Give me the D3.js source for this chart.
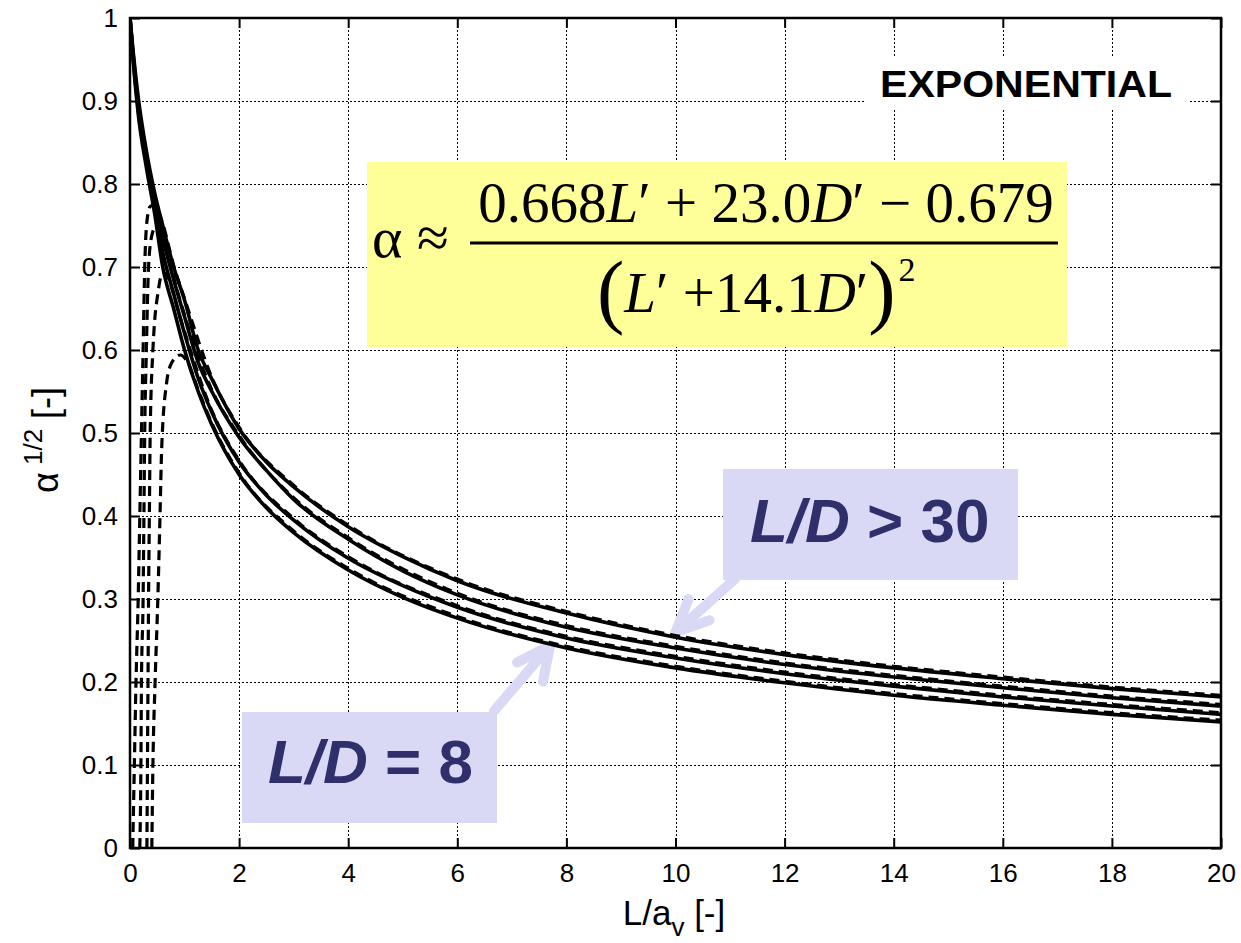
<!DOCTYPE html>
<html>
<head>
<meta charset="utf-8">
<script src="https://cdn.jsdelivr.net/npm/d3@7"></script>
<style>
  body { margin: 0; background: #fff; }
  svg { display: block; }
</style>
</head>
<body>
<div id="chart"></div>
<script>
const width = 1241;
const height = 943;

// axis ticks
const xTicks = [0, 2, 4, 6, 8, 10, 12, 14, 16, 18, 20];
const yTicks = [0, 0.1, 0.2, 0.3, 0.4, 0.5, 0.6, 0.7, 0.8, 0.9, 1];

// solid curves (top = L/D > 30 ... bottom = L/D = 8)
const solidX = [0, 0.05, 0.15, 0.3, 0.45, 0.6, 0.8, 1, 1.25, 1.5, 2, 2.5, 3, 4, 5, 6, 8, 10, 12, 14, 16, 18, 20];
const solid1 = [1, 0.965, 0.905, 0.84, 0.79, 0.75, 0.70, 0.66, 0.60, 0.565, 0.505, 0.465, 0.435, 0.387, 0.351, 0.322, 0.283, 0.254, 0.233, 0.217, 0.204, 0.192, 0.182];
const solid2 = [1, 0.962, 0.898, 0.835, 0.782, 0.735, 0.685, 0.64, 0.585, 0.55, 0.495, 0.455, 0.42, 0.372, 0.334, 0.305, 0.266, 0.241, 0.221, 0.206, 0.193, 0.181, 0.171];
const solid3 = [1, 0.958, 0.89, 0.827, 0.773, 0.718, 0.668, 0.62, 0.566, 0.525, 0.465, 0.425, 0.395, 0.349, 0.316, 0.29, 0.253, 0.229, 0.21, 0.195, 0.182, 0.171, 0.161];
const solid4 = [1, 0.955, 0.885, 0.82, 0.765, 0.70, 0.65, 0.60, 0.55, 0.51, 0.45, 0.41, 0.38, 0.335, 0.302, 0.277, 0.241, 0.217, 0.199, 0.184, 0.172, 0.161, 0.152];

// dashed curves (each with its own x samples)
const dash1X = [0.05, 0.08, 0.11, 0.15, 0.18, 0.21, 0.24, 0.27, 0.31, 0.37, 0.45, 0.6, 0.8, 1, 1.5, 2, 3, 4, 6, 8, 10, 12, 14, 16, 18, 20];
const dash1Y = [0, 0.1, 0.2, 0.3, 0.4, 0.5, 0.6, 0.7, 0.755, 0.773, 0.775, 0.752, 0.702, 0.662, 0.567, 0.507, 0.437, 0.389, 0.324, 0.285, 0.256, 0.235, 0.219, 0.206, 0.194, 0.184];
const dash2X = [0.18, 0.2, 0.21, 0.24, 0.255, 0.27, 0.3, 0.34, 0.4, 0.46, 0.55, 0.7, 0.85, 1, 1.5, 2, 3, 4, 6, 8, 10, 12, 14, 16, 18, 20];
const dash2Y = [0, 0.1, 0.2, 0.3, 0.4, 0.5, 0.6, 0.7, 0.738, 0.747, 0.74, 0.712, 0.675, 0.642, 0.552, 0.497, 0.422, 0.374, 0.307, 0.268, 0.243, 0.223, 0.208, 0.195, 0.183, 0.173];
const dash3X = [0.31, 0.32, 0.33, 0.34, 0.355, 0.37, 0.42, 0.52, 0.6, 0.68, 0.76, 0.9, 1, 1.5, 2, 3, 4, 6, 8, 10, 12, 14, 16, 18, 20];
const dash3Y = [0, 0.1, 0.2, 0.3, 0.4, 0.5, 0.6, 0.672, 0.693, 0.69, 0.676, 0.643, 0.622, 0.527, 0.467, 0.397, 0.351, 0.292, 0.255, 0.231, 0.212, 0.197, 0.184, 0.173, 0.163];
const dash4X = [0.4, 0.42, 0.46, 0.51, 0.55, 0.58, 0.67, 0.76, 0.92, 1.05, 1.25, 1.5, 2, 3, 4, 6, 8, 10, 12, 14, 16, 18, 20];
const dash4Y = [0, 0.1, 0.2, 0.3, 0.4, 0.48, 0.56, 0.584, 0.594, 0.586, 0.552, 0.512, 0.452, 0.382, 0.337, 0.279, 0.243, 0.219, 0.201, 0.186, 0.174, 0.163, 0.154];

const solidSeries = [solid1, solid2, solid3, solid4].map((ys) => solidX.map((x, i) => [x, ys[i]]));
const dashSeries = [
  [dash1X, dash1Y],
  [dash2X, dash2Y],
  [dash3X, dash3Y],
  [dash4X, dash4Y],
].map(([xs, ys]) => xs.map((x, i) => [x, ys[i]]));

const plotLeft = 130, plotRight = 1221, plotTop = 18, plotBottom = 848;

const x = d3.scaleLinear().domain([0, 20]).range([plotLeft, plotRight]);
const y = d3.scaleLinear().domain([0, 1]).range([plotBottom, plotTop]);

const svg = d3
  .select("#chart")
  .append("svg")
  .attr("width", width)
  .attr("height", height)
  .style("font-family", "'Liberation Sans', Arial, sans-serif");

svg.append("defs")
  .append("clipPath")
  .attr("id", "plotclip")
  .append("rect")
  .attr("x", plotLeft)
  .attr("y", plotTop)
  .attr("width", plotRight - plotLeft)
  .attr("height", plotBottom - plotTop);

// dotted grid
const snap = (v) => Math.round(v) + 0.5;
const grid = svg.append("g")
  .attr("stroke", "#000")
  .attr("stroke-width", 1.4)
  .attr("stroke-dasharray", "2,2")
  .attr("shape-rendering", "crispEdges");
grid.selectAll("line.v")
  .data(xTicks.slice(1, -1))
  .join("line")
  .attr("class", "v")
  .attr("x1", (d) => snap(x(d))).attr("x2", (d) => snap(x(d)))
  .attr("y1", plotTop).attr("y2", plotBottom);
grid.selectAll("line.h")
  .data(yTicks.slice(1, -1))
  .join("line")
  .attr("class", "h")
  .attr("x1", plotLeft).attr("x2", plotRight)
  .attr("y1", (d) => snap(y(d))).attr("y2", (d) => snap(y(d)));

// white patch behind the title
svg.append("rect")
  .attr("x", 866).attr("y", 58)
  .attr("width", 324).attr("height", 50)
  .attr("fill", "#fff");
svg.append("text")
  .attr("x", 1026).attr("y", 97)
  .attr("text-anchor", "middle")
  .attr("font-weight", "bold")
  .attr("font-size", 37)
  .attr("textLength", 292)
  .attr("lengthAdjust", "spacingAndGlyphs")
  .text("EXPONENTIAL");

// formula box
const fbox = svg.append("g");
fbox.append("rect")
  .attr("x", 367).attr("y", 162)
  .attr("width", 700).attr("height", 185)
  .attr("fill", "#ffff99");
const serif = "'Liberation Serif', 'Times New Roman', serif";
fbox.append("text")
  .attr("x", 372).attr("y", 257)
  .attr("font-family", serif)
  .attr("font-size", 58)
  .text("α ≈");
const num = fbox.append("text")
  .attr("x", 766).attr("y", 222)
  .attr("text-anchor", "middle")
  .attr("font-family", serif)
  .attr("font-size", 57);
num.append("tspan").text("0.668");
num.append("tspan").attr("font-style", "italic").text("L");
num.append("tspan").text("′ + 23.0");
num.append("tspan").attr("font-style", "italic").text("D");
num.append("tspan").text("′ − 0.679");
fbox.append("line")
  .attr("x1", 470).attr("x2", 1058)
  .attr("y1", 243).attr("y2", 243)
  .attr("stroke", "#000").attr("stroke-width", 3);
// denominator as one text so the parentheses and the square stay with it
const den = fbox.append("text")
  .attr("x", 597).attr("y", 318)
  .attr("font-family", serif)
  .attr("font-size", 57);
den.append("tspan").attr("font-size", 82).attr("font-weight", 300).text("(");
den.append("tspan").attr("dy", -6).attr("font-style", "italic").text("L");
den.append("tspan").text("′ +14.1");
den.append("tspan").attr("font-style", "italic").text("D");
den.append("tspan").text("′");
den.append("tspan").attr("dy", 6).attr("font-size", 82).text(")");
den.append("tspan").attr("dy", -37).attr("dx", 3).attr("font-size", 34).text("2");

// L/D boxes
const navy = "#2f2f6b";
const lilac = "#d9d9f6";
const boxes = [
  { x: 723, y: 469, w: 295, h: 111, tx: 750, ty: 542, rel: " > 30" },
  { x: 242, y: 712, w: 255, h: 111, tx: 268, ty: 783, rel: " = 8" },
];
boxes.forEach((b) => {
  svg.append("rect")
    .attr("x", b.x).attr("y", b.y)
    .attr("width", b.w).attr("height", b.h)
    .attr("fill", lilac);
  const t = svg.append("text")
    .attr("x", b.tx).attr("y", b.ty)
    .attr("font-weight", "bold")
    .attr("font-size", 62)
    .attr("fill", navy);
  t.append("tspan").attr("font-style", "italic").text("L/D");
  t.append("tspan").text(b.rel);
});

// arrows from the boxes to the curves
const arrows = [
  { tail: [735, 579], tip: [x(10.0), y(0.26)], arms: [[13, -33], [34, -12]] },
  { tail: [494, 711], tip: [x(7.7), y(0.244)], arms: [[-33, 17], [-7, 36]] },
];
arrows.forEach((a) => {
  const ag = svg.append("g")
    .attr("stroke", lilac)
    .attr("stroke-width", 10)
    .attr("stroke-linecap", "round")
    .attr("stroke-linejoin", "round")
    .attr("fill", "none");
  ag.append("line")
    .attr("x1", a.tail[0]).attr("y1", a.tail[1])
    .attr("x2", a.tip[0]).attr("y2", a.tip[1]);
  ag.append("path")
    .attr("d", `M${a.tip[0] + a.arms[0][0]},${a.tip[1] + a.arms[0][1]}L${a.tip[0]},${a.tip[1]}L${a.tip[0] + a.arms[1][0]},${a.tip[1] + a.arms[1][1]}`);
});

// curves
const line = d3.line()
  .x((d) => x(d[0]))
  .y((d) => y(d[1]))
  .curve(d3.curveMonotoneX);

const curves = svg.append("g").attr("clip-path", "url(#plotclip)").attr("fill", "none").attr("stroke", "#000");
curves.selectAll("path.solid")
  .data(solidSeries)
  .join("path")
  .attr("class", "solid")
  .attr("d", line)
  .attr("stroke-width", 3.6);
curves.selectAll("path.dash")
  .data(dashSeries)
  .join("path")
  .attr("class", "dash")
  .attr("d", line)
  .attr("stroke-width", 3.2)
  .attr("stroke-dasharray", "10,6");

// axes: inward ticks on all sides
const fontSize = 26;
const xAxis = svg.append("g")
  .attr("transform", `translate(0,${plotBottom})`)
  .call(d3.axisBottom(x).tickValues(xTicks).tickSize(-10).tickPadding(16).tickFormat((d) => d));
const yAxis = svg.append("g")
  .attr("transform", `translate(${plotLeft},0)`)
  .call(d3.axisLeft(y).tickValues(yTicks).tickSize(-10).tickPadding(12).tickFormat((d) => d));
svg.append("g")
  .attr("transform", `translate(0,${plotTop})`)
  .call(d3.axisTop(x).tickValues(xTicks).tickSize(-10).tickFormat(""));
svg.append("g")
  .attr("transform", `translate(${plotRight},0)`)
  .call(d3.axisRight(y).tickValues(yTicks).tickSize(-10).tickFormat(""));

svg.selectAll(".domain").remove();
svg.selectAll(".tick line").attr("stroke", "#000").attr("stroke-width", 2);
[xAxis, yAxis].forEach((ax) =>
  ax.selectAll("text")
    .attr("font-size", fontSize)
    .attr("font-family", "'Liberation Sans', Arial, sans-serif")
    .attr("fill", "#000"));

// frame
svg.append("rect")
  .attr("x", plotLeft).attr("y", plotTop)
  .attr("width", plotRight - plotLeft).attr("height", plotBottom - plotTop)
  .attr("fill", "none")
  .attr("stroke", "#000")
  .attr("stroke-width", 2.5);

// axis titles
const xt = svg.append("text")
  .attr("x", 674).attr("y", 925)
  .attr("text-anchor", "middle")
  .attr("font-size", 35);
xt.append("tspan").text("L/a");
xt.append("tspan").attr("font-size", 26).attr("dy", 11).text("v");
xt.append("tspan").attr("dy", -11).text(" [-]");

const yt = svg.append("text")
  .attr("transform", "translate(58,440) rotate(-90)")
  .attr("text-anchor", "middle")
  .attr("font-size", 36);
yt.append("tspan").text("α");
yt.append("tspan").attr("font-size", 26).attr("dy", -16).text(" 1/2");
yt.append("tspan").attr("dy", 16).text(" [-]");
</script>
</body>
</html>
